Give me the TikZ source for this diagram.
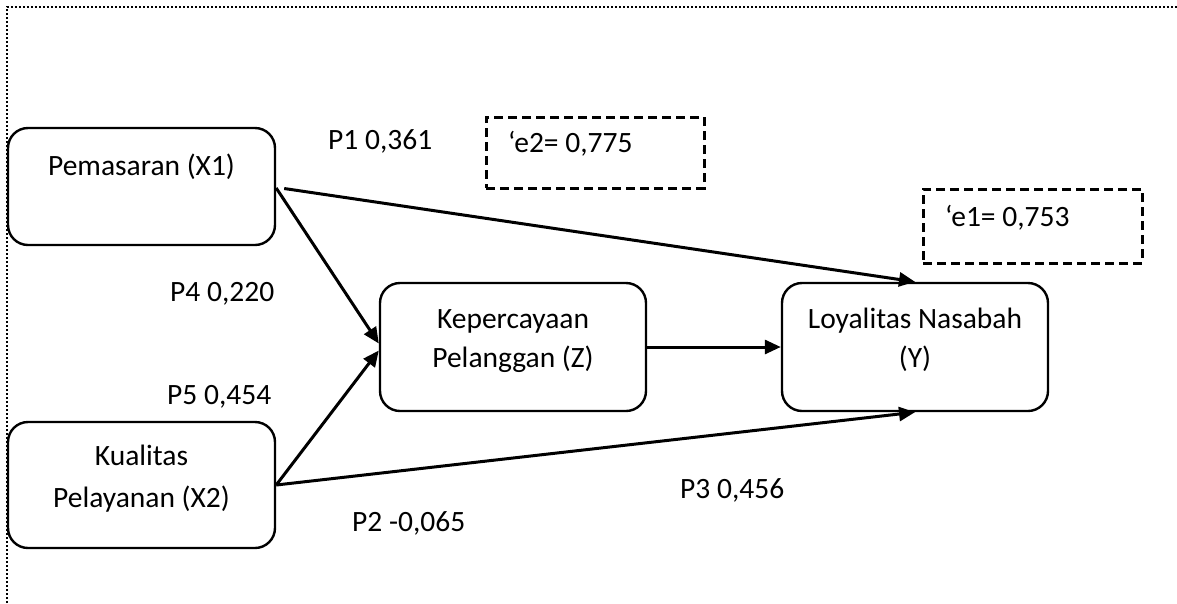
\documentclass[tikz,border=0pt]{standalone}
\usepackage{fontspec}
\setmainfont{Carlito}
\usetikzlibrary{arrows.meta}
\begin{document}
\begin{tikzpicture}[x=1pt,y=-1pt,
  box/.style={draw,line width=2.4pt,rounded corners=20pt,inner sep=0pt},
  ebox/.style={draw,line width=3pt,dash pattern=on 9pt off 5pt,inner sep=0pt},
  txt/.style={inner sep=0pt,font=\fontsize{29.5}{35}\selectfont},
  arr/.style={line width=3pt,-{Triangle[length=16pt,width=14pt]}},
  border/.style={line width=2pt,dash pattern=on 2pt off 2pt}]
\useasboundingbox (0,0) rectangle (1177,603);
% partial dotted frame
\coordinate (fc) at (7,7);
\coordinate (fr) at (1177,7);
\coordinate (fb) at (7,603);
\draw[border] (fb) -- (fc) -- (fr);
% boxes
\node[box,minimum width=267pt,minimum height=117pt] (x1) at (141.5,186.5) {};
\node[box,minimum width=267pt,minimum height=126pt] (x2) at (141.5,485) {};
\node[box,minimum width=266pt,minimum height=128pt] (z) at (513,347) {};
\node[box,minimum width=266pt,minimum height=128pt] (ly) at (915,347) {};
\node[ebox,minimum width=218pt,minimum height=71pt] (e2box) at (595,152.5) {};
\node[ebox,minimum width=219pt,minimum height=74pt] (e1box) at (1032.5,226) {};
% box texts
\node[txt,anchor=base] (tx1) at (141.5,175) {Pemasaran (X1)};
\node[txt,anchor=base] (tz1) at (513,328) {Kepercayaan};
\node[txt,anchor=base] (tz2) at (513,367) {Pelanggan (Z)};
\node[txt,anchor=base] (ty1) at (915,328) {Loyalitas Nasabah};
\node[txt,anchor=base] (ty2) at (915,367) {(Y)};
\node[txt,anchor=base] (tx21) at (141.5,465) {Kualitas};
\node[txt,anchor=base] (tx22) at (141.5,507) {Pelayanan (X2)};
\node[txt,anchor=base west] (te2) at (508,152) {‘e2= 0,775};
\node[txt,anchor=base west] (te1) at (945,226) {‘e1= 0,753};
% path labels
\node[txt,anchor=base west] (p1) at (328,149) {P1 0,361};
\node[txt,anchor=base west] (p4) at (170,301) {P4 0,220};
\node[txt,anchor=base west] (p5) at (167,404) {P5 0,454};
\node[txt,anchor=base west] (p3) at (680,498) {P3 0,456};
\node[txt,anchor=base west] (p2) at (352,531) {P2 -0,065};
% connectors
\draw[arr] ([xshift=8pt,yshift=-2pt]x1.east) -- (ly.north);
\draw[arr] ([yshift=-1.5pt]x1.east) -- ([yshift=3.5pt]z.west);
\draw[arr] (x2.east) -- ([yshift=-3.5pt]z.west);
\draw[arr] (x2.east) -- (ly.south);
\draw[arr] (z.east) -- (ly.west);
\end{tikzpicture}
\end{document}
